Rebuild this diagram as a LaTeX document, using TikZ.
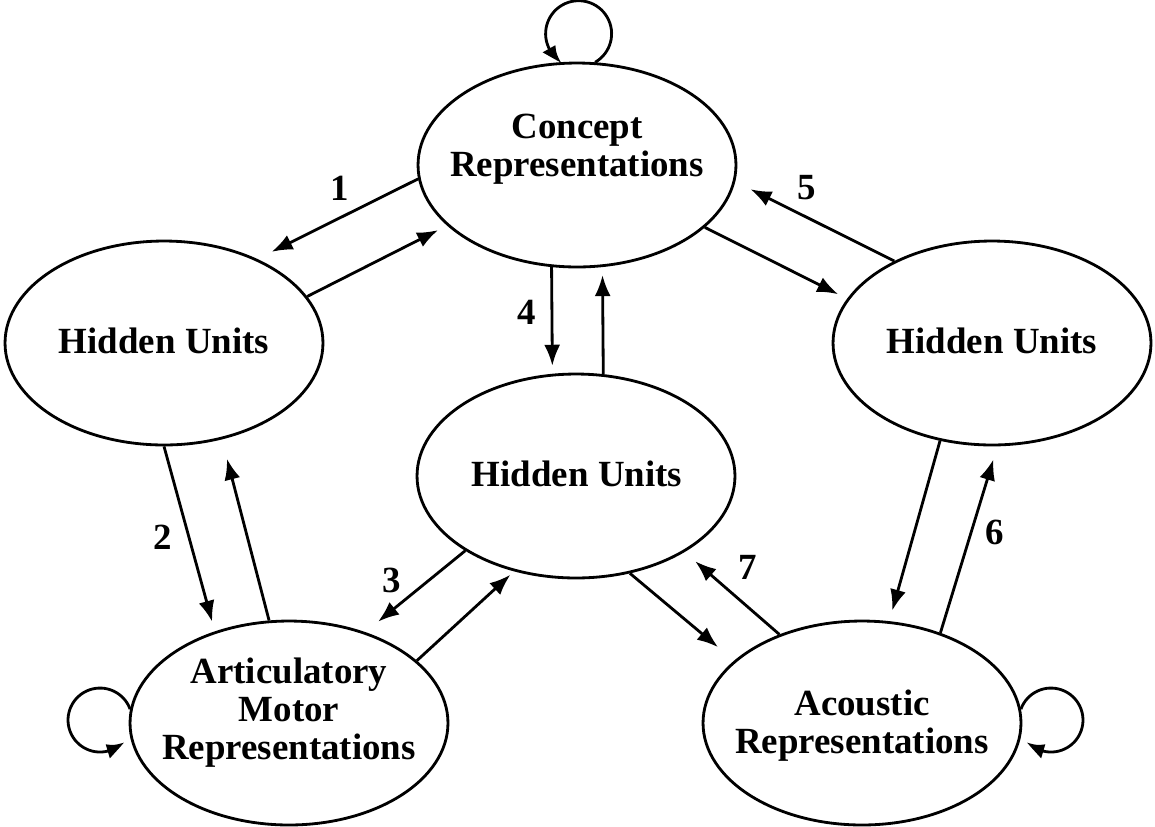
\documentclass[tikz,border=0pt]{standalone}
\usepackage{fontspec}
\setmainfont{Liberation Serif}
\usetikzlibrary{arrows.meta,bending,shapes.geometric}

\tikzset{
  unit/.style={ellipse,draw,minimum width=6.36cm,minimum height=4.08cm,inner sep=0pt},
  txt/.style={font=\fontsize{21}{21.6}\selectfont\bfseries,align=center,inner sep=0pt},
  num/.style={font=\fontsize{21}{22}\selectfont\bfseries,inner sep=0pt},
  arr/.style={-{Latex[length=4.2mm,width=3.2mm]}},
  self/.style={-{Latex[bend,length=3.8mm,width=3mm]}}
}

\begin{document}
\begin{tikzpicture}[x=0.02cm,y=-0.02cm,line width=1.6pt]
  \useasboundingbox (0,0) rectangle (1155,826);
  % layers
  \node[unit] (con)  at (577,165) {};
  \node[unit] (hidL) at (164,343) {};
  \node[unit] (hidM) at (576,476) {};
  \node[unit] (hidR) at (992,343) {};
  \node[unit] (art)  at (289,723) {};
  \node[unit] (aco)  at (862,723) {};
  \node[txt] (conT)  at (577,149) {Concept\\Representations};
  \node[txt] (hidLT) at (164,340.5) {Hidden Units};
  \node[txt] (hidMT) at (577,473.5) {Hidden Units};
  \node[txt] (hidRT) at (992,340.5) {Hidden Units};
  \node[txt] (artT)  at (289,712.5) {Articulatory\\Motor\\Representations};
  \node[txt] (acoT)  at (862,726) {Acoustic\\Representations};
  % connections
  \foreach \a/\b/\g in {con.185/hidL.42/0.32, hidL.18/con.205/0.2,
      hidL.270/art.129/0.2, art.101/hidL.301/0.4,
      hidM.214/art.50/0.33, art.26/hidM.237/0.1,
      con.256/hidM.103/0.16, hidM.75/con.284/0.16,
      hidR.140/con.354/0.34, con.334/hidR.163/0.2,
      hidR.242/aco.75/0.22, aco.49/hidR.273/0.27,
      hidM.299/aco.154/0.42, aco.133/hidM.325/0.28}
    \draw[arr,shorten >=\g cm] (\a) -- (\b);
  % recurrent loops
  \draw[self] (con.80) arc[start angle=-60,end angle=240,radius=0.66cm];
  \draw[self] (art.175) arc[start angle=20,end angle=318,radius=0.64cm];
  \draw[self] (aco.5) arc[start angle=160,end angle=-138,radius=0.64cm];
  % pathway numbers
  \node[num] (n1) at (340,188) {1};
  \node[num] (n2) at (163,537) {2};
  \node[num] (n3) at (392,580) {3};
  \node[num] (n4) at (527,312) {4};
  \node[num] (n5) at (807,188) {5};
  \node[num] (n6) at (995,532) {6};
  \node[num] (n7) at (748,567) {7};
\end{tikzpicture}
\end{document}
